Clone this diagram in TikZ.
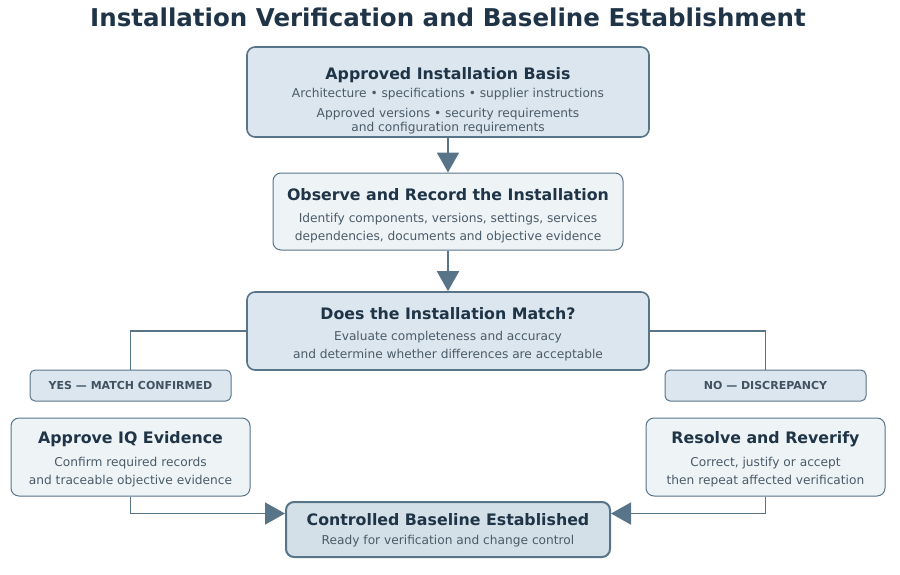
\documentclass[tikz,border=0pt]{standalone}
\usepackage{fontspec}
\setmainfont{DejaVu Sans}
\usetikzlibrary{arrows.meta}
\definecolor{ink}{HTML}{1F3447}
\definecolor{txt}{HTML}{4A5B68}
\definecolor{edge}{HTML}{587488}
\definecolor{fillA}{HTML}{DCE6EE}
\definecolor{fillB}{HTML}{EEF3F6}
\definecolor{fillC}{HTML}{D3E0E8}
\tikzset{
  box/.style={draw=edge, rounded corners=8pt, align=center, inner sep=0pt},
  major/.style={box, fill=fillA, line width=1.6pt},
  minor/.style={box, fill=fillB, line width=1pt},
  tag/.style={box, fill=fillA, line width=1pt, rounded corners=5pt, font=\fontsize{11}{13}\selectfont\bfseries, text=ink!85},
  conn/.style={draw=edge, line width=1.8pt},
  arr/.style={conn, -{Triangle[length=20pt,width=22pt]}},
  hd/.style={font=\fontsize{15.8}{18}\selectfont\bfseries, text=ink},
  bd/.style={font=\fontsize{12.2}{17.5}\selectfont, text=txt, align=center},
}
\begin{document}
\begin{tikzpicture}[x=1pt,y=-1pt]
\useasboundingbox (0,0) rectangle (900,574);
\node[font=\fontsize{24.5}{28}\selectfont\bfseries, text=ink] (title) at (448,17) {Installation Verification and Baseline Establishment};

\node[major, minimum width=402pt, minimum height=90pt] (basis) at (448,92) {};
\node[hd] (basisH) at (448,75) {Approved Installation Basis};
\node[bd] (basisB1) at (448,94) {Architecture • specifications • supplier instructions};
\node[bd, font=\fontsize{12.2}{14}\selectfont] (basisB2) at (448,121) {Approved versions • security requirements\\and configuration requirements};

\node[minor, minimum width=350pt, minimum height=77pt] (obs) at (448,211.5) {};
\node[hd] (obsH) at (448,195) {Observe and Record the Installation};
\node[bd] (obsB) at (448,228) {Identify components, versions, settings, services\\dependencies, documents and objective evidence};

\node[major, minimum width=402pt, minimum height=78pt] (match) at (448,331) {};
\node[hd] (matchH) at (448,314) {Does the Installation Match?};
\node[bd] (matchB) at (448,346) {Evaluate completeness and accuracy\\and determine whether differences are acceptable};

\node[tag, minimum width=201pt, minimum height=31pt] (yes) at (130.5,385.5) {YES — MATCH CONFIRMED};
\node[tag, minimum width=201pt, minimum height=31pt] (no) at (765.5,385.5) {NO — DISCREPANCY};

\node[minor, minimum width=239pt, minimum height=78pt] (appr) at (130.5,457) {};
\node[hd] (apprH) at (130.5,439) {Approve IQ Evidence};
\node[bd] (apprB) at (130.5,472) {Confirm required records\\and traceable objective evidence};

\node[minor, minimum width=239pt, minimum height=78pt] (res) at (765.5,457) {};
\node[hd] (resH) at (765.5,439) {Resolve and Reverify};
\node[bd] (resB) at (765.5,472) {Correct, justify or accept\\then repeat affected verification};

\node[box, fill=fillC, line width=2pt, minimum width=324pt, minimum height=55pt] (base) at (448,529.5) {};
\node[hd] (baseH) at (448,520) {Controlled Baseline Established};
\node[bd] (baseB) at (448,541) {Ready for verification and change control};
\coordinate (baseL) at ([yshift=16pt]base.west);
\coordinate (baseR) at ([yshift=16pt]base.east);

\draw[arr] (basis.south) -- (obs.north);
\draw[arr] (obs.south) -- (match.north);
\draw[conn] (match.west) -| (yes.north);
\draw[conn] (match.east) -| (no.north);
\draw[arr] (appr.south) |- (baseL);
\draw[arr] (res.south) |- (baseR);
\end{tikzpicture}
\end{document}
